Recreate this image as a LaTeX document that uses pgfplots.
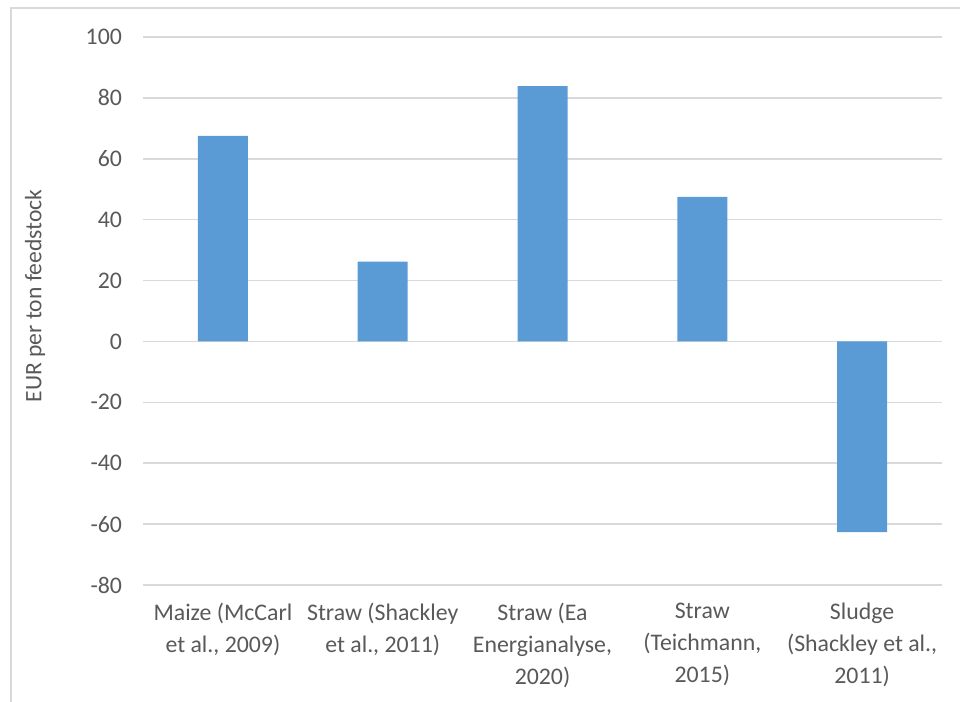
\documentclass[border=0pt]{standalone}
\usepackage{pgfplots}
\pgfplotsset{compat=1.18}
\usepackage{fontspec}
\setmainfont{Carlito}
\definecolor{barblue}{HTML}{5B9BD5}
\definecolor{txt}{HTML}{595959}
\definecolor{gridc}{HTML}{D9D9D9}
\begin{document}
\begin{tikzpicture}
\path[use as bounding box] (0,0) rectangle (480pt,351pt);
\draw[gridc, line width=0.8pt] (5.5pt,0) -- (5.5pt,347pt) -- (480pt,347pt);
\begin{axis}[
  at={(71.5pt,58.5pt)}, anchor=south west,
  scale only axis, width=399.5pt, height=274pt,
  xmin=-0.5, xmax=4.5, ymin=-80, ymax=100,
  axis line style={draw=none},
  ytick={-80,-60,...,100},
  xtick={0,1,2,3,4},
  xticklabels={{Maize (McCarl\\et al., 2009)},{Straw (Shackley\\et al., 2011)},{Straw (Ea\\Energianalyse,\\2020)},{Straw\\(Teichmann,\\2015)},{Sludge\\(Shackley et al.,\\2011)}},
  ymajorgrids, major grid style={gridc, line width=0.8pt},
  major tick length=0pt,
  /pgf/number format/assume math mode=true,
  tick label style={font=\fontsize{11.9}{15.9}\selectfont, text=txt},
  xticklabel style={align=center, anchor=north, yshift=-5.5pt},
  yticklabel style={anchor=east, xshift=-7pt},
  clip=false,
]
\addplot[ybar, bar width=25pt, fill=barblue, draw=none] coordinates {(0,67.5) (1,26.2) (2,83.9) (3,47.5) (4,-62.6)};
\end{axis}
\node[rotate=90, text=txt, font=\fontsize{11.8}{16}\selectfont] at (17.5pt,203pt) {EUR per ton feedstock};
\end{tikzpicture}
\end{document}
